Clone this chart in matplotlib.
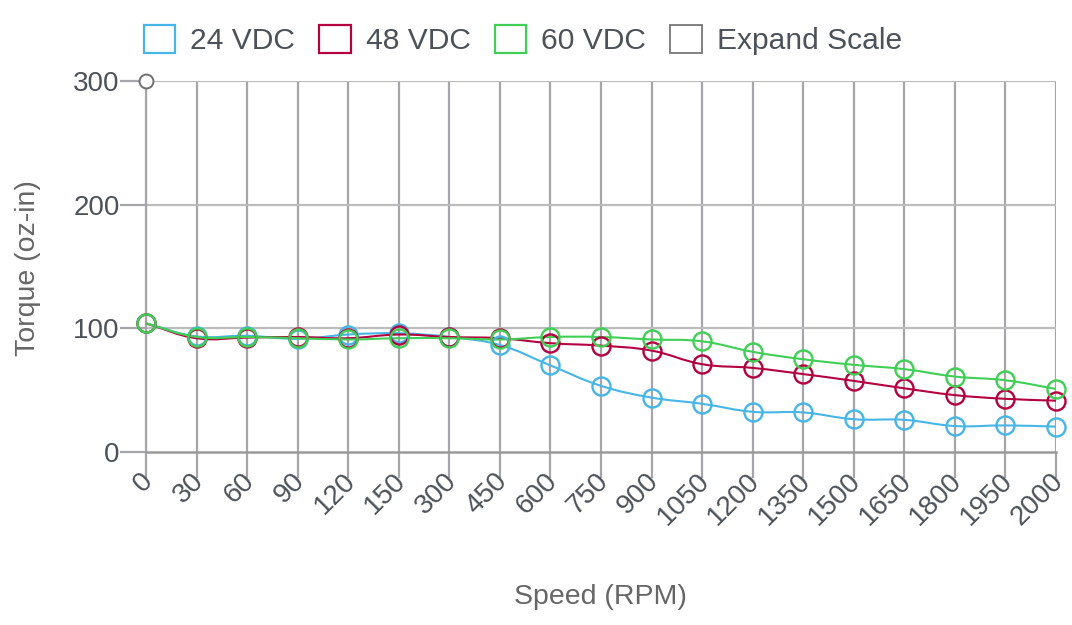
import matplotlib.pyplot as plt
import matplotlib.patches as mpatches
import matplotlib.transforms as mtransforms
from matplotlib.path import Path
import numpy as np

plt.rcParams['font.family'] = ['Liberation Sans', 'DejaVu Sans']

speeds = ['0', '30', '60', '90', '120', '150', '300', '450', '600', '750',
          '900', '1050', '1200', '1350', '1500', '1650', '1800', '1950', '2000']
torque_24 = [104, 93.5, 94, 91.5, 95, 96, 93, 86.5, 70, 53.5,
             44, 39, 32.5, 32, 26.5, 26, 21, 21.5, 20.5]
torque_48 = [104, 92, 92.5, 93, 92, 95, 93, 92, 88, 86,
             82, 71, 68, 63, 57.5, 51.5, 46, 43, 41.5]
torque_60 = [104, 93, 93, 92, 91, 92, 92, 91, 93, 93,
             91, 89.5, 81, 75, 70.5, 67, 61, 58, 51]
expand_x = [0]
expand_y = [300]

series = [('24 VDC', torque_24, '#45b6e6'),
          ('48 VDC', torque_48, '#b5003f'),
          ('60 VDC', torque_60, '#3fcf55')]
tick_color = '#4d5258'
title_color = '#666666'


def spline_path(xs, ys, sx, sy, t=0.4):
    # chart.js style bezier, distances measured in pixels
    px = np.array(xs, float) * sx
    py = np.array(ys, float) * sy
    n = len(px)
    cprev = []
    cnext = []
    for i in range(n):
        a = max(i - 1, 0)
        b = min(i + 1, n - 1)
        d01 = np.hypot(px[i] - px[a], py[i] - py[a])
        d12 = np.hypot(px[b] - px[i], py[b] - py[i])
        tot = d01 + d12
        s01 = d01 / tot if tot else 0
        s12 = d12 / tot if tot else 0
        dx = px[b] - px[a]
        dy = py[b] - py[a]
        cprev.append((px[i] - t * s01 * dx, py[i] - t * s01 * dy))
        cnext.append((px[i] + t * s12 * dx, py[i] + t * s12 * dy))
    verts = [(px[0], py[0])]
    codes = [Path.MOVETO]
    for i in range(n - 1):
        verts += [cnext[i], cprev[i + 1], (px[i + 1], py[i + 1])]
        codes += [Path.CURVE4] * 3
    verts = [(x / sx, y / sy) for x, y in verts]
    return Path(verts, codes)


fig = plt.figure(figsize=(10.72, 6.25), dpi=100)
ax = fig.add_axes([146 / 1072, 173 / 625, 910 / 1072, 371 / 625])

x = np.arange(len(speeds))
sx = 910 / (len(speeds) - 1)
sy = 371 / 300

for name, vals, col in series:
    path = spline_path(x, vals, sx, sy)
    ax.add_patch(mpatches.PathPatch(path, facecolor='none', edgecolor=col,
                                    lw=1.5, zorder=3, clip_on=False))
    ax.plot(x, vals, linestyle='none', marker='o', markersize=13,
            markerfacecolor='none', markeredgecolor=col, markeredgewidth=1.7,
            zorder=4, clip_on=False)

ax.plot(expand_x, expand_y, linestyle='none', marker='o', markersize=10,
        markerfacecolor='white', markeredgecolor='#6f6f6f', markeredgewidth=1.4,
        zorder=5, clip_on=False)

ax.set_xlim(0, len(speeds) - 1)
ax.set_ylim(0, 300)
ax.set_xticks(x)
ax.set_xticklabels(speeds, rotation=45, ha='right', va='top',
                   rotation_mode='anchor')
ax.set_yticks([0, 100, 200, 300])

for xi in x:
    ax.axvline(xi, color='#a5a5aa', lw=1.6, zorder=1)
for yv in [100, 200, 300]:
    ax.axhline(yv, color='#bcbcbc', lw=1.6, zorder=1)

for s in ['top', 'right']:
    ax.spines[s].set_visible(False)
ax.spines['left'].set_color('#a5a5aa')
ax.spines['bottom'].set_color('#9a9a9a')
ax.spines['left'].set_linewidth(1.6)
ax.spines['bottom'].set_linewidth(1.8)

ax.tick_params(axis='y', length=19, width=1.6, color='#a5a5aa',
               labelsize=20, labelcolor=tick_color, pad=0)
ax.tick_params(axis='x', length=19, width=1.6, color='#a5a5aa',
               labelsize=20, labelcolor=tick_color, pad=-3)

# nudge rotated labels up and left like the original (after tick_params)
shift = mtransforms.ScaledTranslation(-6 / 100, 6 / 100, fig.dpi_scale_trans)
for lab in ax.get_xticklabels():
    lab.set_transform(lab.get_transform() + shift)

fig.text(28 / 1072, 1 - 268 / 625, 'Torque (oz-in)', fontsize=20.5,
         color=title_color, ha='center', va='center', rotation=90)
fig.text(600 / 1072, 1 - 597 / 625, 'Speed (RPM)', fontsize=20.5,
         color=title_color, ha='center', va='center')

handles = [mpatches.Patch(facecolor='none', edgecolor=c, linewidth=1.6, label=n)
           for n, v, c in series]
handles.append(mpatches.Patch(facecolor='none', edgecolor='#777777',
                              linewidth=1.3, label='Expand Scale'))
leg = fig.legend(handles=handles, loc='center', ncol=4, frameon=False,
                 bbox_to_anchor=(523 / 1072, 1 - 40 / 625), fontsize=21.6,
                 handlelength=1.05, handleheight=1.05, handletextpad=0.5,
                 columnspacing=0.8)
for t in leg.get_texts():
    t.set_color(tick_color)

fig.savefig('out.png', dpi=100)
